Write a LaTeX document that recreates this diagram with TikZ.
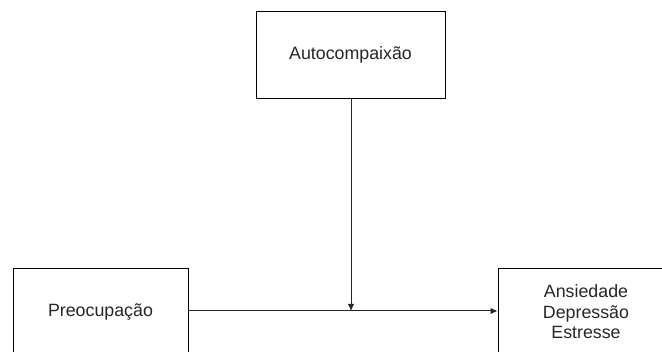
\documentclass[tikz,border=0pt]{standalone}
\usepackage{fontspec}
\setmainfont{Liberation Sans}
\usetikzlibrary{arrows.meta}
\begin{document}
\begin{tikzpicture}[x=1pt,y=-1pt,
  box/.style={draw=black,line width=0.9pt,rectangle,inner sep=0pt,align=center,
    font=\fontsize{17.8}{20.5}\selectfont,text=black!85},
  conn/.style={draw=black!85,line width=1pt,-{Latex[length=7pt,width=6.5pt]}}]
\useasboundingbox (0,0) rectangle (662,352);
\clip (0,0) rectangle (662,352);
\node[box,minimum width=189pt,minimum height=87pt] (auto) at (350.5,54.5) {Autocompaixão};
\node[box,minimum width=175pt,minimum height=88pt] (preo) at (100.5,312) {Preocupação};
\node[box,minimum width=176pt,minimum height=88pt] (ans) at (586,312) {Ansiedade\\Depressão\\Estresse};
\draw[conn] (preo.east |- 0,311) -- (ans.west |- 0,311);
\coordinate (mid) at (351,311);
\draw[conn] (auto.south -| mid) -- (mid);
\end{tikzpicture}
\end{document}
